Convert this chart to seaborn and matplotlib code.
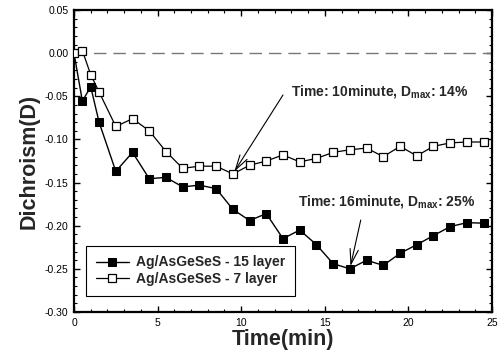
import numpy as np
import pandas as pd
import matplotlib
matplotlib.use("Agg")
import matplotlib.pyplot as plt
from matplotlib.ticker import MultipleLocator, FormatStrFormatter
import seaborn as sns

# ---- data ----
time_min = [0, 0.5, 1, 1.5, 2.5, 3.5, 4.5, 5.5, 6.5, 7.5, 8.5, 9.5, 10.5, 11.5,
            12.5, 13.5, 14.5, 15.5, 16.5, 17.5, 18.5, 19.5, 20.5, 21.5, 22.5,
            23.5, 24.5]
d_15layer = [0.0, -0.0555, -0.039, -0.080, -0.137, -0.115, -0.1455, -0.144,
             -0.155, -0.153, -0.157, -0.181, -0.194, -0.186, -0.215, -0.205,
             -0.222, -0.244, -0.250, -0.240, -0.246, -0.232, -0.222, -0.2115,
             -0.201, -0.1965, -0.197]
d_7layer = [0.0, 0.003, -0.025, -0.045, -0.085, -0.076, -0.090, -0.114,
            -0.1335, -0.131, -0.131, -0.140, -0.130, -0.125, -0.118, -0.126,
            -0.122, -0.115, -0.112, -0.110, -0.120, -0.108, -0.119, -0.108,
            -0.104, -0.103, -0.103]
series_names = ["Ag/AsGeSeS - 15 layer", "Ag/AsGeSeS - 7 layer"]
x_label = "Time(min)"
y_label = "Dichroism(D)"
note1 = "Time: 10minute, D$_{\\mathregular{max}}$: 14%"
note2 = "Time: 16minute, D$_{\\mathregular{max}}$: 25%"
note1_target = (9.5, -0.140)
note2_target = (16.5, -0.250)

# ---- style ----
sns.set_theme(style="ticks")
plt.rcParams["font.family"] = ["Liberation Sans", "DejaVu Sans"]
plt.rcParams["axes.unicode_minus"] = False
plt.rcParams["mathtext.fontset"] = "custom"
plt.rcParams["mathtext.rm"] = "Liberation Sans:bold"
plt.rcParams["mathtext.default"] = "rm"

fig = plt.figure(figsize=(5.02, 3.60), dpi=100)
ax = fig.add_axes([74 / 502, 1 - 312 / 360, (492 - 74) / 502, (312 - 10) / 360])

df15 = pd.DataFrame({"t": time_min, "d": d_15layer})
df7 = pd.DataFrame({"t": time_min, "d": d_7layer})

ax.axhline(0, color="#777777", lw=1.0, ls=(0, (9, 5)), zorder=1)

sns.lineplot(data=df15, x="t", y="d", ax=ax, color="black", lw=1.0,
             marker="s", markersize=6, markerfacecolor="black",
             markeredgecolor="black", label=series_names[0], sort=False,
             errorbar=None, zorder=3)
sns.lineplot(data=df7, x="t", y="d", ax=ax, color="black", lw=0.9,
             marker="s", markersize=6, markerfacecolor="white",
             markeredgecolor="black", markeredgewidth=0.9,
             label=series_names[1], sort=False, errorbar=None, zorder=3)

ax.set_xlim(0, 25)
ax.set_ylim(-0.30, 0.05)
ax.xaxis.set_major_locator(MultipleLocator(5))
ax.xaxis.set_minor_locator(MultipleLocator(1))
ax.yaxis.set_major_locator(MultipleLocator(0.05))
ax.yaxis.set_minor_locator(MultipleLocator(0.01))
ax.yaxis.set_major_formatter(FormatStrFormatter("%.2f"))
ax.tick_params(which="both", direction="in", top=True, right=True,
               labelsize=7.5, colors="black", pad=4)
ax.tick_params(which="major", length=4, width=1)
ax.tick_params(which="minor", length=2, width=0.8)
for s in ax.spines.values():
    s.set_linewidth(1.6)
    s.set_color("black")

ax.set_xlabel(x_label, fontsize=15.5, fontweight="bold", labelpad=1)
ax.set_ylabel(y_label, fontsize=15.5, fontweight="bold", labelpad=4)

ax.annotate("", xy=note1_target, xytext=(12.5, -0.0485),
            arrowprops=dict(arrowstyle="->,head_length=0.9,head_width=0.25",
                            lw=0.8, color="black", shrinkA=0, shrinkB=2))
ax.text(12.98, -0.0447, note1, fontsize=10, fontweight="bold",
        ha="left", va="center")
ax.annotate("", xy=note2_target, xytext=(17.15, -0.1934),
            arrowprops=dict(arrowstyle="->,head_length=0.9,head_width=0.25",
                            lw=0.8, color="black", shrinkA=0, shrinkB=2))
ax.text(13.4, -0.1725, note2, fontsize=10, fontweight="bold",
        ha="left", va="center")

leg = ax.legend(loc="lower left", bbox_to_anchor=(0.012, 0.03), frameon=True,
                fancybox=False, edgecolor="black", framealpha=1,
                prop={"weight": "bold", "size": 10}, handlelength=2.4,
                borderpad=0.7, labelspacing=0.2, handletextpad=0.5)
leg.get_frame().set_linewidth(0.8)

fig.savefig("out.png", dpi=100)
